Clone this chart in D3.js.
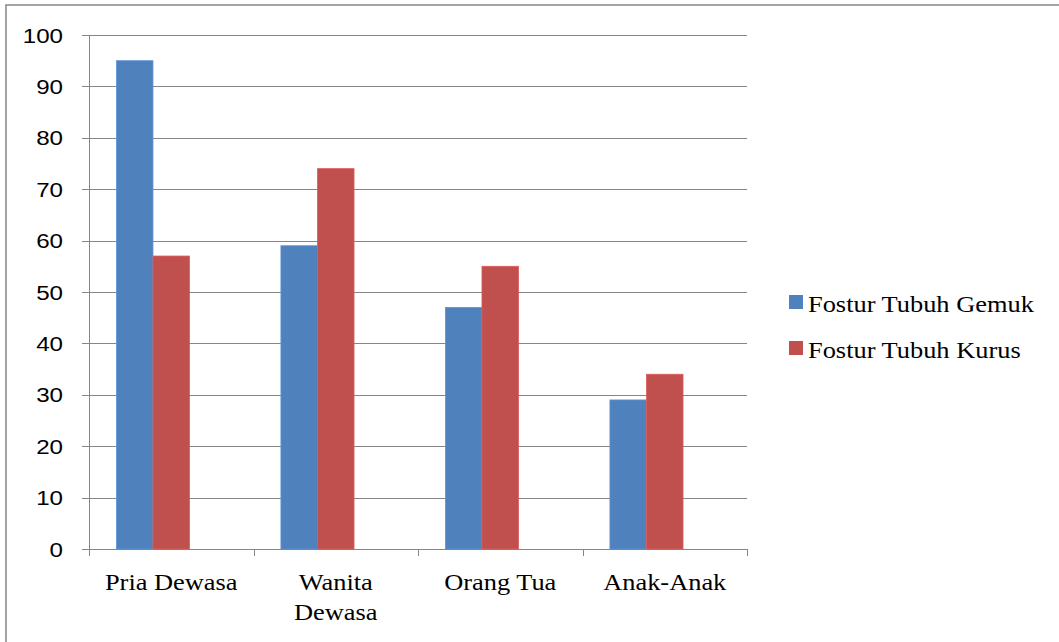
<!DOCTYPE html>
<html>
<head>
<meta charset="utf-8">
<script src="https://cdn.jsdelivr.net/npm/d3@7"></script>
<style>
  body { margin: 0; background: #fff; }
</style>
</head>
<body>
<div id="chart"></div>
<script>
const categories = ['Pria Dewasa', 'Wanita Dewasa', 'Orang Tua', 'Anak-Anak'];
const seriesNames = ['Fostur Tubuh Gemuk', 'Fostur Tubuh Kurus'];
const gemuk = [95, 59, 47, 29];
const kurus = [57, 74, 55, 34];
const yTicks = [0, 10, 20, 30, 40, 50, 60, 70, 80, 90, 100];
const colors = ['#4F81BD', '#C0504D'];

const width = 1059, height = 642;
const margin = {top: 35, bottom: 93, left: 89, right: 312};

const svg = d3.select('#chart')
  .append('svg')
  .attr('width', width)
  .attr('height', height);

// outer frame
svg.append('rect')
  .attr('x', 6).attr('y', 5)
  .attr('width', width).attr('height', height)
  .attr('fill', 'none')
  .attr('stroke', '#868686')
  .attr('stroke-width', 1.5);

const x = d3.scaleBand()
  .domain(categories)
  .range([margin.left, width - margin.right]);

// three slots per category like the original (third one stays empty)
const xSub = d3.scaleBand()
  .domain([0, 1, 2])
  .range([0, x.bandwidth()])
  .paddingOuter(0.75)
  .paddingInner(0);

const y = d3.scaleLinear()
  .domain([0, 100])
  .range([height - margin.bottom, margin.top]);

// gridlines
svg.append('g')
  .selectAll('line')
  .data(yTicks)
  .join('line')
  .attr('x1', margin.left - 7)
  .attr('x2', width - margin.right)
  .attr('y1', d => Math.round(y(d)) + 0.5)
  .attr('y2', d => Math.round(y(d)) + 0.5)
  .attr('stroke', '#868686')
  .attr('stroke-width', 1);

// y labels (slightly widened like the original's font)
svg.append('g')
  .selectAll('text')
  .data(yTicks)
  .join('text')
  .attr('transform', d => `translate(63,${y(d)}) scale(1.15,1)`)
  .attr('dy', '0.36em')
  .attr('text-anchor', 'end')
  .attr('font-family', 'Liberation Sans, Arial, sans-serif')
  .attr('font-size', 21)
  .attr('fill', '#000')
  .text(d => d);

// bars
const rows = categories.map((c, i) => ({cat: c, vals: [gemuk[i], kurus[i]]}));
svg.append('g')
  .selectAll('g')
  .data(rows)
  .join('g')
  .attr('transform', d => `translate(${x(d.cat)},0)`)
  .selectAll('rect')
  .data(d => d.vals.map((v, k) => ({k, v})))
  .join('rect')
  .attr('x', d => xSub(d.k))
  .attr('y', d => y(d.v))
  .attr('width', xSub.bandwidth())
  .attr('height', d => y(0) - y(d.v))
  .attr('fill', d => colors[d.k])
  .attr('stroke', d => d3.color(colors[d.k]).brighter(0.4))
  .attr('stroke-width', 0.8);

// y axis line
svg.append('line')
  .attr('x1', margin.left + 0.5).attr('x2', margin.left + 0.5)
  .attr('y1', y(100)).attr('y2', y(0) + 7)
  .attr('stroke', '#868686');

// x ticks at category boundaries
const bounds = categories.map(c => x(c)).concat([x(categories[3]) + x.bandwidth()]);
svg.append('g')
  .selectAll('line')
  .data(bounds)
  .join('line')
  .attr('x1', d => Math.round(d) + 0.5).attr('x2', d => Math.round(d) + 0.5)
  .attr('y1', y(0)).attr('y2', y(0) + 7)
  .attr('stroke', '#868686');

// category labels
const labelLines = {'Wanita Dewasa': ['Wanita', 'Dewasa']};
svg.append('g')
  .selectAll('text')
  .data(categories)
  .join('text')
  .attr('transform', d => `translate(${x(d) + x.bandwidth() / 2},590) scale(1.1,1)`)
  .attr('text-anchor', 'middle')
  .attr('font-family', 'Liberation Serif, Times New Roman, serif')
  .attr('font-size', 24)
  .attr('fill', '#000')
  .each(function(d) {
    const lines = labelLines[d] || [d];
    d3.select(this).selectAll('tspan')
      .data(lines)
      .join('tspan')
      .attr('x', 0)
      .attr('dy', (l, i) => i === 0 ? 0 : 30)
      .text(l => l);
  });

// legend
const legend = svg.append('g')
  .selectAll('g')
  .data(seriesNames)
  .join('g')
  .attr('transform', (d, i) => `translate(789,${295 + i * 46})`);
legend.append('rect')
  .attr('width', 14).attr('height', 14)
  .attr('fill', (d, i) => colors[i]);
legend.append('text')
  .attr('transform', 'translate(19,17) scale(1.1,1)')
  .attr('font-family', 'Liberation Serif, Times New Roman, serif')
  .attr('font-size', 24)
  .attr('fill', '#000')
  .text(d => d);
</script>
</body>
</html>
